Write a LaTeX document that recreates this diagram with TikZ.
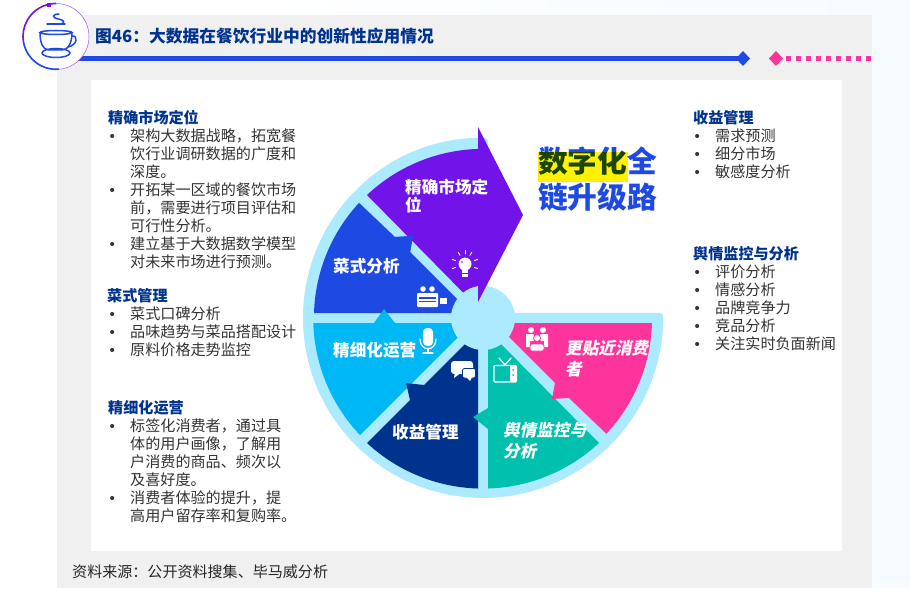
\documentclass[tikz,border=0pt]{standalone}
\usepackage{fontspec}
\setmainfont{Noto Sans CJK SC}
\newfontfamily\slantfont[FakeSlant=0.2, BoldFeatures={FakeSlant=0.2}]{Noto Sans CJK SC}
\newfontfamily\bulletfont{Liberation Sans}
\usepackage{xcolor}
\usepackage{tikz}
\definecolor{wheelPurple}{HTML}{7213EA}
\definecolor{wheelBlue}{HTML}{1E49E2}
\definecolor{wheelCyan}{HTML}{00B8F5}
\definecolor{wheelNavy}{HTML}{00338D}
\definecolor{wheelTeal}{HTML}{00C0AE}
\definecolor{wheelPink}{HTML}{FD349C}
\definecolor{wheelBand}{HTML}{ACEAFF}
\definecolor{panelGray}{HTML}{F0F0F0}
\definecolor{pagePale}{HTML}{F5FBFF}
\definecolor{textDark}{HTML}{333333}
\newcommand{\bulitem}{\makebox[22pt][l]{\hspace{1.4pt}{\bulletfont •}}}
\newcommand{\bulcont}{\hspace*{22pt}}
\newcommand{\sidehead}[1]{\textcolor{wheelNavy}{\textbf{#1}}}
\tikzset{
    sidetext/.style={anchor=north west, inner sep=0pt, align=left, text=textDark,
        font=\fontsize{15.1}{18}\selectfont},
    wheeltext/.style={anchor=west, inner sep=0pt, align=left, text=white,
        font=\fontsize{16.6}{18}\selectfont\bfseries},
    wheelslant/.style={anchor=west, inner sep=0pt, align=left, text=white,
        font=\fontsize{16.6}{21}\selectfont\slantfont\bfseries},
    iconline/.style={draw=white, line width=1.3pt, line cap=round},
    cupline/.style={draw=wheelBlue, line width=1.5pt, line cap=round}
}
\begin{document}
\begin{tikzpicture}[x=1pt, y=-1pt]
    \useasboundingbox (0,0) rectangle (910,599);
    \shade[left color=white, right color=pagePale] (250,0) rectangle (910,599);
    \fill[white] (0,588) rectangle (910,599);
    \fill[panelGray] (57,15) rectangle (872,588);
    \fill[white] (91,80) rectangle (842,551);

    \fill[wheelBlue] (70,56) rectangle (743,61);
    \fill[wheelBlue] (743,51) -- (750,58.5) -- (743,66) -- (736,58.5) -- cycle;
    \fill[wheelPink] (776,51) -- (783,58.5) -- (776,66) -- (769,58.5) -- cycle;
    \foreach \x in {786,796,...,866} {
        \fill[wheelPink] (\x,56) rectangle +(5,5);
    }

    \draw[wheelPurple!70!white, fill=white, line width=0.5pt] (56,36.5) circle (33);
    \draw[wheelPurple, line width=1.6pt] (56,3.5) arc[start angle=270, end angle=170, radius=33];
    \draw[wheelBlue, line width=1.6pt] (23.5,42) arc[start angle=170, end angle=85, radius=33];
    \fill[wheelPurple] (47,3) rectangle (51,7);
    \draw[cupline] (56,32.5) ellipse (16 and 2);
    \draw[cupline] (40,33) .. controls (40,43) and (43,50) .. (49,50)
        -- (62,50) .. controls (68,50) and (72,43) .. (72,33);
    \draw[cupline] (72,36) .. controls (78,35) and (78,45) .. (68,47);
    \draw[cupline] (56,53) ellipse (14 and 4.5);
    \draw[cupline] (47,24) -- (65,24);
    \draw[cupline] (59,14) .. controls (52,14) and (52,18) .. (58,19)
        .. controls (65,20) and (65,23) .. (61,24);

    \node[anchor=west, inner sep=0pt, text=wheelNavy, font=\fontsize{16.75}{18}\selectfont\bfseries] (titleText) at (95,36) {图46：大数据在餐饮行业中的创新性应用情况};

    \node[sidetext] (marketText) at (108,110) {\sidehead{精确市场定位}\\
        \bulitem 架构大数据战略，拓宽餐\\
        \bulcont 饮行业调研数据的广度和\\
        \bulcont 深度。\\
        \bulitem 开拓某一区域的餐饮市场\\
        \bulcont 前，需要进行项目评估和\\
        \bulcont 可行性分析。\\
        \bulitem 建立基于大数据数学模型\\
        \bulcont 对未来市场进行预测。};
    \node[sidetext] (dishText) at (108,288) {\hspace*{-1pt}\sidehead{菜式管理}\\
        \bulitem 菜式口碑分析\\
        \bulitem 品味趋势与菜品搭配设计\\
        \bulitem 原料价格走势监控};
    \node[sidetext] (opsText) at (108,400) {\sidehead{精细化运营}\\
        \bulitem 标签化消费者，通过具\\
        \bulcont 体的用户画像，了解用\\
        \bulcont 户消费的商品、频次以\\
        \bulcont 及喜好度。\\
        \bulitem 消费者体验的提升，提\\
        \bulcont 高用户留存率和复购率。};
    \node[sidetext] (revenueText) at (693,110) {\sidehead{收益管理}\\
        \bulitem 需求预测\\
        \bulitem 细分市场\\
        \bulitem 敏感度分析};
    \node[sidetext] (opinionText) at (693,246) {\sidehead{舆情监控与分析}\\
        \bulitem 评价分析\\
        \bulitem 情感分析\\
        \bulitem 品牌竞争力\\
        \bulitem 竞品分析\\
        \bulitem 关注实时负面新闻};

    \node[anchor=west, inner sep=0pt, text=black!85, font=\fontsize{15.05}{18}\selectfont] (sourceText) at (72,572) {资料来源：公开资料搜集、毕马威分析};

    \fill[wheelBand, rounded corners=3pt] (488,313) -- (488,138)
        arc[start angle=271.6, end angle=-1.6, radius=180] -- cycle;
    \fill[wheelBlue] (314,313) arc[start angle=181.7, end angle=222.8, radius=169.5]
        -- (395,237) -- (413,236) -- (410,252) -- (465,307) -- (465,313) -- cycle;
    \fill[wheelCyan] (314,323) -- (374,323) -- (384,309) -- (395,323) -- (465,323)
        -- (465,330) -- (360,435) arc[start angle=136.4, end angle=178.3, radius=169.5] -- cycle;
    \fill[wheelNavy] (478,335) -- (474,335) -- (424,385) -- (406,383) -- (410,400) -- (367,443)
        arc[start angle=132.9, end angle=91.7, radius=170.5] -- cycle;
    \fill[wheelTeal] (488,335) -- (492,335) -- (599,443)
        arc[start angle=47.1, end angle=88.3, radius=170.5]
        -- (488,429) -- (473,417) -- (488,408) -- cycle;
    \fill[wheelPink] (652,323) arc[start angle=1.7, end angle=43.1, radius=169.5]
        -- (569,398) -- (552,399) -- (555,383) -- (500,328) -- (500,323) -- cycle;
    \fill[wheelBand] (483,318) circle (32);
    \fill[wheelPurple] (367,195) arc[start angle=226.7, end angle=268.3, radius=169.5]
        -- (478,127) -- (523,215) -- (478,302) -- (478,286)
        arc[start angle=261, end angle=232, radius=32.5] -- cycle;
    \fill[wheelBlue] (395,237) -- (413,236) -- (410,252) -- cycle;

    \node[wheeltext] (marketLabel) at (405,196) {精确市场定\\位};
    \node[wheeltext] (dishLabel) at (333,266) {菜式分析};
    \node[wheeltext] (opsLabel) at (333,350) {精细化运营};
    \node[wheeltext] (revenueLabel) at (392,432) {收益管理};
    \node[wheelslant] (opinionLabel) at (503,441) {舆情监控与\\分析};
    \node[wheelslant] (closerLabel) at (565,359) {更贴近消费\\者};

    \fill[white] (465,264) circle (6.5);
    \fill[wheelPurple] (462,262) circle (0.8);
    \fill[white] (462,269) rectangle (468,277);
    \fill[wheelPurple] (462,273) rectangle (468,274);
    \foreach \a in {160,200,240,270,300,340,20} {
        \draw[iconline, line width=0.9pt] (465,264) ++(\a:10) -- ++(\a:3.5);
    }

    \fill[white, rounded corners=1pt] (417,293) rectangle (438,307);
    \fill[wheelBlue] (419,297) rectangle (436,299);
    \fill[wheelBlue] (419,301) rectangle (436,302);
    \fill[white] (423,289) circle (2.8) (432,289) circle (2.8);
    \fill[white] (440,298) rectangle (447,304);

    \fill[white, rounded corners=4pt] (423,328) rectangle (433,346);
    \draw[iconline] (420,339) .. controls (420,352) and (436,352) .. (436,339);
    \draw[iconline] (428,349) -- (428,353) (423,353) -- (433,353);

    \fill[white, rounded corners=3pt] (451,361) rectangle (473,374);
    \fill[white] (455,372) -- (462,372) -- (454,378) -- cycle;
    \draw[wheelNavy, fill=white, rounded corners=2pt, line width=0.8pt] (462.5,368.5) rectangle (475.5,378);
    \fill[white] (466,377) -- (472,377) -- (470,381) -- cycle;

    \draw[iconline, rounded corners=1pt] (494,365.5) rectangle (516.5,382);
    \fill[white] (510,366) rectangle (516,382);
    \fill[wheelTeal] (513,370) circle (1) (513,375) circle (1);
    \draw[iconline] (499,358) -- (505,365) -- (511,358);

    \fill[white] (531,330) circle (3) (543,330) circle (3);
    \fill[white] (526,334) rectangle (530,347) (544,334) rectangle (548,347);
    \fill[white, rounded corners=1pt] (528,334) rectangle (534,341) (540,334) rectangle (546,341);
    \draw[wheelPink, fill=white, line width=0.8pt] (537,338) circle (3.5);
    \draw[wheelPink, fill=white, line width=0.8pt, rounded corners=2pt] (530,351) -- (530,344) -- (544,344) -- (544,351) -- cycle;

    \node[anchor=west, inner sep=0pt, text=wheelBlue, font=\fontsize{29.7}{36}\selectfont\bfseries] (digitalOne) at (538,161) {数字化全};
    \node[anchor=west, inner sep=0pt, text=wheelBlue, font=\fontsize{29.7}{36}\selectfont\bfseries] (digitalTwo) at (538,197) {链升级路};
    \fill[yellow, blend mode=multiply] (538,152) rectangle (628,182);
\end{tikzpicture}
\end{document}
